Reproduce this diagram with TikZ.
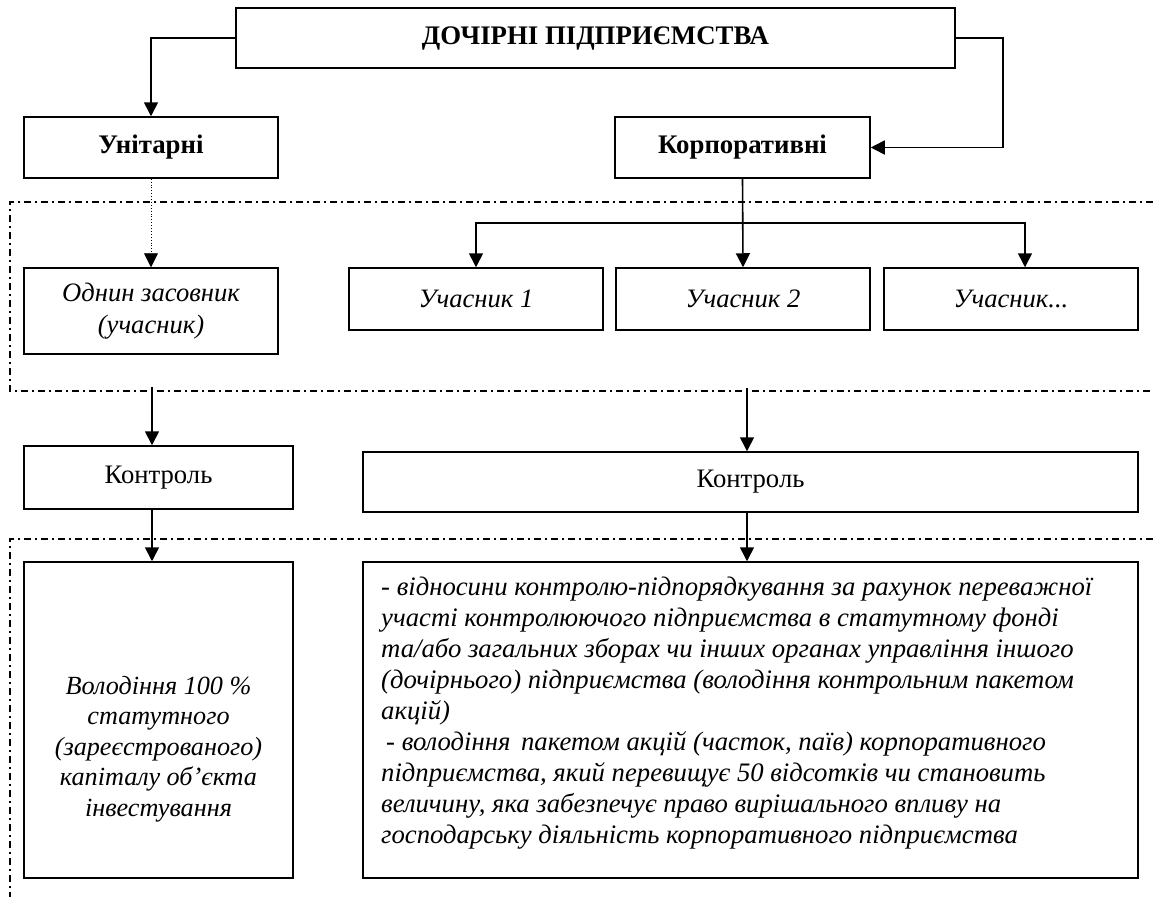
\documentclass[tikz,border=0pt]{standalone}
\usepackage{fontspec}
\setmainfont{Liberation Serif}
\usetikzlibrary{arrows.meta,calc}
\begin{document}
\begin{tikzpicture}[x=1pt,y=-1pt,
  box/.style={draw, line width=1.5pt, inner sep=0pt, align=center},
  arr/.style={line width=1.6pt, -{Triangle[length=14pt,width=14pt]}},
  dotarr/.style={line width=0.9pt, dotted, -{Triangle[length=14pt,width=14pt]}},
  dd/.style={line width=1.3pt, dash pattern=on 7pt off 4pt on 2pt off 4pt},
  bf/.style={font=\fontsize{26.8}{31}\selectfont\bfseries},
  it/.style={font=\fontsize{26.6}{32}\selectfont\itshape},
  rm/.style={font=\fontsize{26.7}{31}\selectfont}
]
\useasboundingbox (0,0) rectangle (1153,897);

% boxes
\node[box, bf, minimum width=719pt, minimum height=60pt] (top) at (595.5,38) {ДОЧІРНІ ПІДПРИЄМСТВА};
\node[box, bf, minimum width=254pt, minimum height=61pt] (uni) at (151,147.5) {Унітарні};
\node[box, bf, minimum width=255pt, minimum height=61pt] (corp) at (742.5,147.5) {Корпоративні};

\node[box, it, minimum width=254pt, minimum height=86pt] (odin) at (151,311) {Однин засовник\\(учасник)};
\node[box, it, minimum width=254pt, minimum height=62pt] (u1) at (476,299) {Учасник 1};
\node[box, it, minimum width=254pt, minimum height=62pt] (u2) at (743,299) {Учасник 2};
\node[box, it, minimum width=254pt, minimum height=62pt] (u3) at (1011,299) {Учасник...};

\node[box, rm, minimum width=269pt, minimum height=63pt] (kl) at (158.5,477.5) {Контроль};
\node[box, rm, minimum width=775pt, minimum height=60pt] (kr) at (750.5,482) {Контроль};

\node[box, minimum width=269pt, minimum height=316pt] (bl) at (158.5,720) {};
\node[box, minimum width=775pt, minimum height=316pt] (br) at (750.5,720) {};

\node[font=\fontsize{26.2}{30.5}\selectfont\itshape, align=center, inner sep=0pt] (bltext) at (158.5,749)
  {Володіння 100 \%\\статутного\\(зареєстрованого)\\капіталу об’єкта\\інвестування};
\node[font=\fontsize{26.7}{31}\selectfont\itshape, align=left, inner sep=0pt, anchor=west] (brtext) at (381,713)
  {- відносини контролю-підпорядкування за рахунок переважної\\
   участі контролюючого підприємства в статутному фонді\\
   та/або загальних зборах чи інших органах управління іншого\\
   (дочірнього) підприємства (володіння контрольним пакетом\\
   акцій)\\
   \hspace*{5pt}- володіння \hspace*{4pt}пакетом акцій (часток, паїв) корпоративного\\
   підприємства, який перевищує 50 відсотків чи становить\\
   величину, яка забезпечує право вирішального впливу на\\
   господарську діяльність корпоративного підприємства};

% dash-dot frames
\draw[dd] (1153,202) -- (10,202) -- (10,391) -- (1153,391);
\draw[dd] (1153,539) -- (10,539) -- (10,897);

% connectors
\draw[arr] (top.west) -| (uni.north);
\draw[arr] (top.east) -- ++(47,0) |- (corp.east);
\draw[dotarr] (uni.south) -- (odin.north);
\draw[arr] (corp.south) -- (u2.north);
\coordinate (fork) at ($(corp.south)!0.5!(u2.north)$);
\draw[arr] (fork) -| (u1.north);
\draw[arr] (fork) -| ([xshift=14pt]u3.north);

\coordinate (sl) at (152,387);
\coordinate (sr) at (747,388);
\draw[arr] (sl) -- (sl |- kl.north);
\draw[arr] (kl.south -| sl) -- (sl |- bl.north);
\draw[arr] (sr) -- (sr |- kr.north);
\draw[arr] (kr.south -| sr) -- (sr |- br.north);
\end{tikzpicture}
\end{document}
